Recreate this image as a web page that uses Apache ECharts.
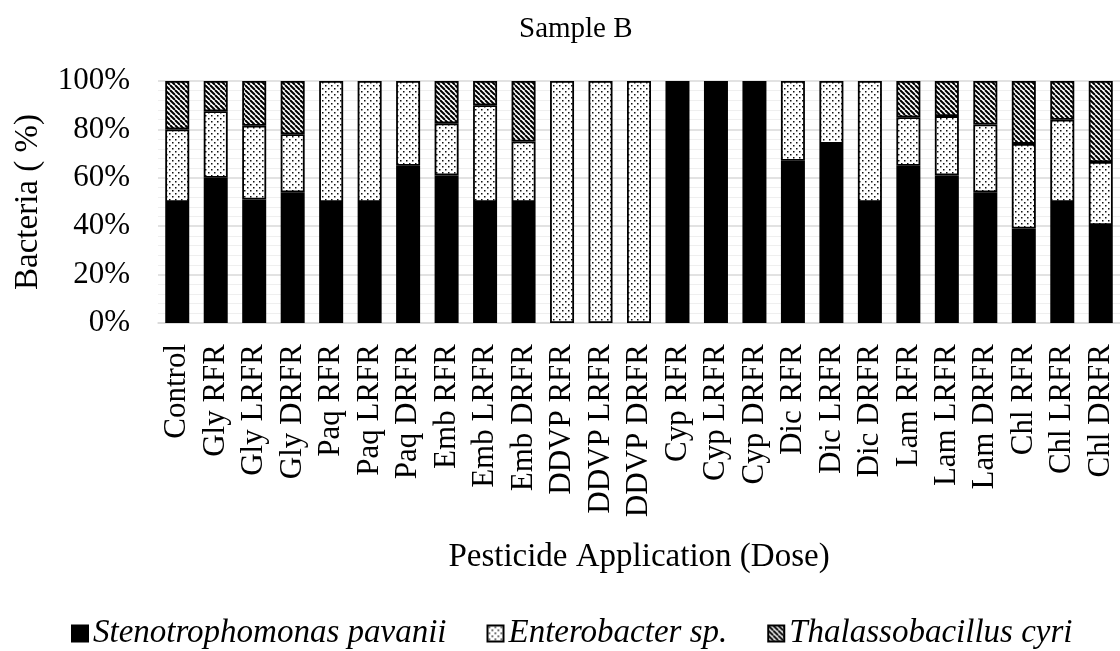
<!DOCTYPE html>
<html>
<head>
<meta charset="utf-8">
<script src="https://cdn.jsdelivr.net/npm/echarts@6/dist/echarts.min.js"></script>
<style>
html,body{margin:0;padding:0;background:#fff;}
#chart{width:1120px;height:651px;}
</style>
</head>
<body>
<div id="chart"></div>
<script>
const categories = ['Control','Gly RFR','Gly LRFR','Gly DRFR','Paq RFR','Paq LRFR','Paq DRFR','Emb RFR','Emb LRFR','Emb DRFR','DDVP RFR','DDVP LRFR','DDVP DRFR','Cyp RFR','Cyp LRFR','Cyp DRFR','Dic RFR','Dic LRFR','Dic DRFR','Lam RFR','Lam LRFR','Lam DRFR','Chl RFR','Chl LRFR','Chl DRFR'];
const stenotrophomonas = [50,60,51,54,50,50,65,61,50,50,0,0,0,100,100,100,67,74,50,65,61,54,39,50,40.5];
const enterobacter = [30,27.5,30.5,24,50,50,35,21.5,40,25,100,100,100,0,0,0,33,26,50,20,24.5,28,35,34,26];
const thalassobacillus = [20,12.5,18.5,22,0,0,0,17.5,10,25,0,0,0,0,0,0,0,0,0,15,14.5,18,26,16,33.5];
const seriesNames = ['Stenotrophomonas pavanii','Enterobacter sp.','Thalassobacillus cyri'];
const yTicks = [0,20,40,60,80,100];

function dotPattern(){
  const s = 6;
  const c = document.createElement('canvas');
  c.width = s; c.height = s;
  const g = c.getContext('2d');
  g.fillStyle = '#fff'; g.fillRect(0,0,s,s);
  g.fillStyle = '#111';
  g.fillRect(1,1,1.5,1.5);
  g.fillRect(4,4,1.5,1.5);
  return c;
}
function hatchPattern(){
  const s = 5;
  const c = document.createElement('canvas');
  c.width = s; c.height = s;
  const g = c.getContext('2d');
  g.fillStyle = '#fff'; g.fillRect(0,0,s,s);
  g.strokeStyle = '#000'; g.lineWidth = 2;
  for (let k = -s; k <= s; k += s) {
    g.beginPath(); g.moveTo(k, 0); g.lineTo(k + s, s); g.stroke();
  }
  return c;
}
const fills = ['#000', {image: dotPattern(), repeat: 'repeat'}, {image: hatchPattern(), repeat: 'repeat'}];
const dataSets = [stenotrophomonas, enterobacter, thalassobacillus];
const FONT = 'Liberation Serif';

const chart = echarts.init(document.getElementById('chart'), null, {renderer: 'canvas'});
chart.setOption({
  animation: false,
  backgroundColor: '#fff',
  title: {
    text: 'Sample B', left: 514, top: 10,
    textStyle: {fontFamily: FONT, fontSize: 29, fontWeight: 'normal', color: '#000'}
  },
  legend: {
    left: 66, top: 612, icon: 'rect',
    itemWidth: 16, itemHeight: 16, itemGap: 40,
    textStyle: {fontFamily: FONT, fontSize: 33, fontStyle: 'italic', color: '#000', padding: [0,0,0,0]},
    data: seriesNames
  },
  grid: {left: 158, top: 81, width: 970, height: 242, containLabel: false},
  xAxis: {
    type: 'category', data: categories,
    axisLine: {lineStyle: {color: '#d9d9d9', width: 1.5}},
    axisTick: {show: false},
    axisLabel: {rotate: 90, margin: 21, interval: 0, fontFamily: FONT, fontSize: 31, color: '#000'},
    name: 'Pesticide Application (Dose)', nameLocation: 'middle', nameGap: 218,
    nameTextStyle: {fontFamily: FONT, fontSize: 33, color: '#000'}
  },
  yAxis: {
    type: 'value', min: 0, max: 100, interval: 20,
    axisLine: {show: false}, axisTick: {show: false},
    axisLabel: {margin: 28, fontFamily: FONT, fontSize: 31, color: '#000', formatter: '{value}%'},
    splitLine: {lineStyle: {color: '#d9d9d9', width: 1.5}},
    minorTick: {show: false, splitNumber: 5},
    minorSplitLine: {show: true, lineStyle: {color: '#efefef', width: 1}},
    name: 'Bacteria ( %)', nameLocation: 'middle', nameGap: 113,
    nameTextStyle: {fontFamily: FONT, fontSize: 33, color: '#000'}
  },
  series: dataSets.map((arr, i) => ({
    name: seriesNames[i], type: 'bar', stack: 'total', barWidth: 24,
    itemStyle: {color: fills[i], borderColor: '#000', borderWidth: 1.8},
    data: arr.map(v => v === 0 ? null : v)
  }))
});
</script>
</body>
</html>
